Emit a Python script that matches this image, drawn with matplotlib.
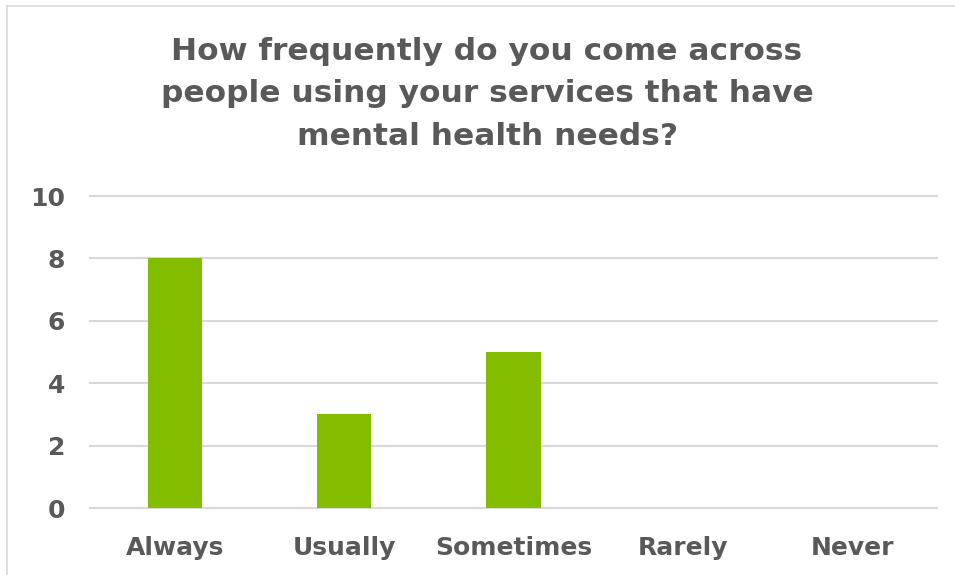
import matplotlib.pyplot as plt
from matplotlib.lines import Line2D

categories = ["Always", "Usually", "Sometimes", "Rarely", "Never"]
counts = [8, 3, 5, 0, 0]
y_ticks = [0, 2, 4, 6, 8, 10]
title = "How frequently do you come across\npeople using your services that have\nmental health needs?"

text_gray = "#595959"
bar_green = "#84BC00"
grid_gray = "#D9D9D9"

plt.rcParams['font.family'] = ['DejaVu Sans']

fig = plt.figure(figsize=(9.55, 5.75), dpi=100)
ax = fig.add_axes([90/955, 1 - 508/575, (937-90)/955, (508-196)/575])

x = list(range(len(categories)))
ax.bar(x, counts, width=0.32, color=bar_green, zorder=3)

ax.set_xlim(-0.5, len(categories) - 0.5)
ax.set_ylim(0, 10)
ax.set_yticks(y_ticks)
ax.set_xticks(x)
ax.set_xticklabels(categories)
ax.yaxis.grid(True, color=grid_gray, linewidth=1.5, zorder=0)
for gl in ax.get_ygridlines():
    gl.set_clip_on(False)
ax.set_axisbelow(True)
for s in ax.spines.values():
    s.set_visible(False)
ax.tick_params(axis='both', length=0, colors=text_gray, labelsize=18)
ax.tick_params(axis='x', pad=20)
ax.tick_params(axis='y', pad=18)
for lbl in ax.get_xticklabels() + ax.get_yticklabels():
    lbl.set_fontweight('bold')

fig.text(487/955, 1 - 94/575, title, ha='center', va='center',
         fontsize=22.5, fontweight='bold', color=text_gray, linespacing=1.6)

# chart frame (top and left edges visible)
fig.add_artist(Line2D([7/955, 7/955], [0, 1 - 6/575], color="#D9D9D9", linewidth=1.2,
                      transform=fig.transFigure))
fig.add_artist(Line2D([7/955, 1], [1 - 6/575, 1 - 6/575], color="#D9D9D9", linewidth=1.2,
                      transform=fig.transFigure))

fig.savefig("out.png", dpi=100)
